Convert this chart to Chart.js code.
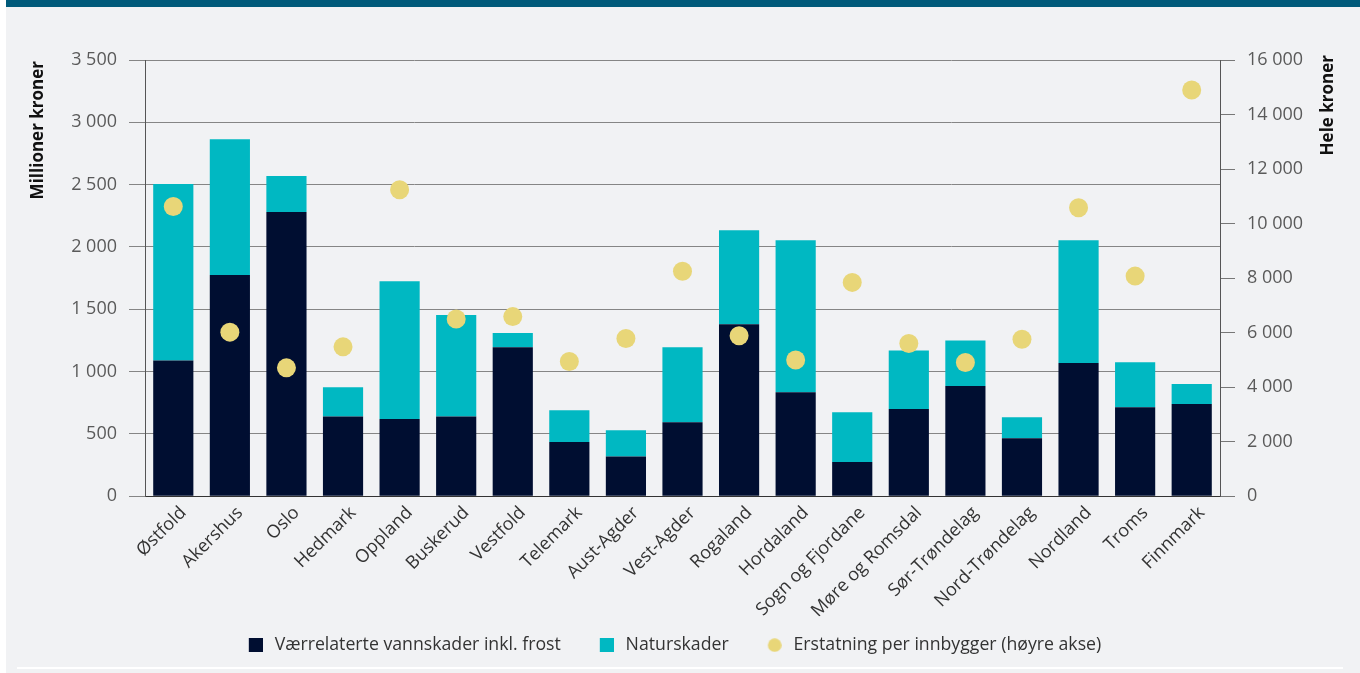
<!DOCTYPE html>
<html>
<head>
<meta charset="utf-8">
<script src="https://cdn.jsdelivr.net/npm/chart.js@4"></script>
<style>
  html, body { margin: 0; padding: 0; background: #ffffff; }
  body { width: 1360px; height: 673px; position: relative; overflow: hidden; }
  #panel { position: absolute; left: 6px; top: 0; width: 1354px; height: 673px; background: #f1f2f4; }
  #band { position: absolute; left: 6px; top: 0; width: 1354px; height: 7px; background: #005a7a; }
  #sep { position: absolute; left: 17px; top: 667px; width: 1326px; height: 2px; background: #ffffff; }
  #c { position: absolute; left: 0; top: 0; }
</style>
</head>
<body>
<div id="panel"></div>
<div id="band"></div>
<div id="sep"></div>
<canvas id="c" width="1360" height="673"></canvas>
<script>
const categories = ['Østfold','Akershus','Oslo','Hedmark','Oppland','Buskerud','Vestfold','Telemark','Aust-Agder','Vest-Agder','Rogaland','Hordaland','Sogn og Fjordane','Møre og Romsdal','Sør-Trøndelag','Nord-Trøndelag','Nordland','Troms','Finnmark'];
const vannskader = [1090,1775,2280,640,620,640,1195,435,320,595,1380,835,275,700,885,465,1070,715,740];
const naturskader = [1415,1090,290,235,1105,815,115,255,210,600,755,1220,400,470,365,170,985,360,160];
const erstatning = [10630,6020,4710,5480,11240,6500,6590,4945,5790,8255,5890,5000,7845,5605,4905,5760,10580,8075,14900];
const seriesNames = ['Værrelaterte vannskader inkl. frost','Naturskader','Erstatning per innbygger (høyre akse)'];
const leftTickLabels = ['0','500','1 000','1 500','2 000','2 500','3 000','3 500'];
const rightTickLabels = ['0','2 000','4 000','6 000','8 000','10 000','12 000','14 000','16 000'];
const leftTitle = 'Millioner kroner';
const rightTitle = 'Hele kroner';

const NAVY = '#000e31', TEAL = '#00b8c2', DOT = '#e8d678';

Chart.defaults.font.family = "'Open Sans', sans-serif";

// legend icon: 30px wide image, visible shape in its right-hand 14px
function legendIcon(color, shape) {
  const cv = document.createElement('canvas');
  cv.width = 30; cv.height = 14;
  const g = cv.getContext('2d');
  g.fillStyle = color;
  if (shape === 'circle') {
    g.beginPath(); g.arc(23, 7, 6.8, 0, Math.PI * 2); g.fill();
  } else {
    g.fillRect(16, 0, 14, 14);
  }
  return cv;
}
const icons = [legendIcon(NAVY, 'rect'), legendIcon(TEAL, 'rect'), legendIcon(DOT, 'circle')];

const titlePlugin = {
  id: 'axisTitles',
  afterDraw(chart) {
    const ctx = chart.ctx;
    const draw = (text, x, y) => {
      ctx.save();
      ctx.font = "bold 17px 'Open Sans', sans-serif";
      ctx.fillStyle = '#111111';
      ctx.textBaseline = 'middle';
      ctx.textAlign = 'right';
      ctx.translate(x, y);
      ctx.rotate(-Math.PI / 2);
      ctx.fillText(text, 0, 0);
      ctx.restore();
    };
    draw(leftTitle, 38, 61);
    draw(rightTitle, 1328, 55);
  }
};

new Chart(document.getElementById('c'), {
  type: 'bar',
  data: {
    labels: categories,
    datasets: [
      { label: seriesNames[0], data: vannskader, backgroundColor: NAVY, yAxisID: 'y', stack: 's', order: 1, barPercentage: 0.71, categoryPercentage: 1 },
      { label: seriesNames[1], data: naturskader, backgroundColor: TEAL, yAxisID: 'y', stack: 's', order: 1, barPercentage: 0.71, categoryPercentage: 1 },
      { type: 'line', label: seriesNames[2], data: erstatning, yAxisID: 'y2', showLine: false, order: 0,
        pointRadius: 9.5, pointHoverRadius: 9.5, pointBackgroundColor: DOT, pointBorderWidth: 0, pointBorderColor: DOT, backgroundColor: DOT, borderColor: DOT }
    ]
  },
  options: {
    responsive: false,
    devicePixelRatio: 1,
    animation: false,
    layout: { padding: { left: 0, right: 29, top: 60, bottom: 9 } },
    plugins: {
      tooltip: { enabled: false },
      legend: {
        position: 'bottom',
        labels: {
          usePointStyle: true,
          pointStyleWidth: 36,
          boxHeight: 14,
          padding: 20,
          color: '#333333',
          font: { size: 17.7 },
          generateLabels(chart) {
            return chart.data.datasets.map((ds, i) => ({
              text: ds.label, pointStyle: icons[i], fillStyle: 'transparent', strokeStyle: 'transparent',
              lineWidth: 0, hidden: false, datasetIndex: i, fontColor: '#333333'
            }));
          }
        }
      }
    },
    scales: {
      x: {
        stacked: true,
        grid: { display: false, drawTicks: false },
        border: { display: true, color: '#333333', width: 1 },
        ticks: { color: '#333333', font: { size: 18 }, minRotation: 45, maxRotation: 45, padding: 6, labelOffset: 10, autoSkip: false },
        afterFit(s) { s.height = 120; }
      },
      y: {
        stacked: true,
        min: 0, max: 3500,
        grid: { color: '#858585', lineWidth: 1, tickLength: 16 },
        border: { display: true, color: '#555555', width: 1 },
        ticks: { stepSize: 500, padding: 12, color: '#5a5a5a', font: { size: 18 }, callback: (v, i) => leftTickLabels[i] },
        afterFit(s) { s.width = 145; }
      },
      y2: {
        position: 'right',
        min: 0, max: 16000,
        grid: { drawOnChartArea: false, color: '#777777', tickLength: 15 },
        border: { display: true, color: '#555555', width: 1 },
        ticks: { stepSize: 2000, padding: 12, color: '#5a5a5a', font: { size: 18 }, callback: (v, i) => rightTickLabels[i] },
        afterFit(s) { s.width = 111; }
      }
    }
  },
  plugins: [titlePlugin]
});
</script>
</body>
</html>
